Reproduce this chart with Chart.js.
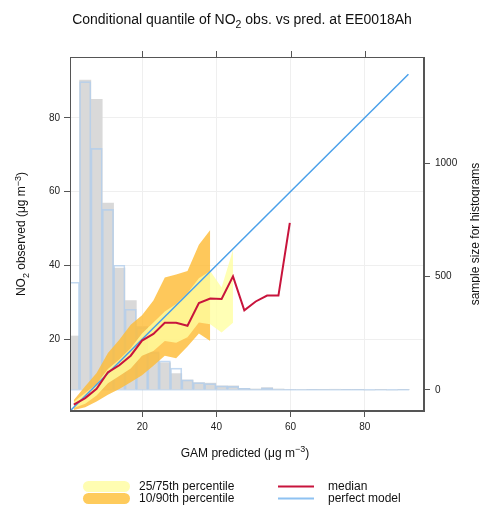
<!DOCTYPE html>
<html>
<head>
<meta charset="utf-8">
<script src="https://cdn.jsdelivr.net/npm/chart.js@4.4.1/dist/chart.umd.min.js"></script>
<style>
  html, body { margin: 0; padding: 0; background: #fff; }
  #wrap { width: 480px; height: 505px; }
</style>
</head>
<body>
<div id="wrap"><canvas id="chart"></canvas></div>
<script>
const FONT = '"Liberation Sans", Arial, sans-serif';

// histogram bins (30 bins over 0..92)
const binMid = [1.53, 4.6, 7.67, 10.73, 13.8, 16.87, 19.93, 23.0, 26.07, 29.13,
  32.2, 35.27, 38.33, 41.4, 44.47, 47.53, 50.6, 53.67, 56.73, 59.8,
  62.87, 65.93, 69.0, 72.07, 75.13, 78.2, 81.27, 84.33, 87.4, 90.47];
const predCount = [238, 1367, 1282, 824, 538, 394, 280, 168, 120, 72, 44, 32, 30, 18, 18,
  7, 4, 10, 4, 2, 2, 1, 1, 3, 1, 1, 0, 1, 0, 1];
const obsCount = [475, 1360, 1066, 797, 550, 356, 275, 165, 128, 96, 44, 32, 28, 18, 16,
  7, 4, 9, 4, 3, 2, 1, 2, 2, 1, 1, 1, 0, 1, 1];
const histRange = [0, 92];

// conditional quantiles, same bin centres
const q10 = [0.8, 1.5, 3.1, 4.9, 6.5, 8.3, 10.2, 12.8, 15.5, 14.8, 18.0, 21.5, 19.5];
const q90 = [3.5, 7.2, 10.8, 16.2, 19.8, 23.9, 26.5, 30.5, 36.7, 37.5, 38.5, 45.6, 49.6];
const q25 = [1.3, 2.5, 4.7, 8.0, 10.0, 12.0, 15.5, 16.8, 19.5, 19.0, 20.5, 24.5, 24.0, 21.8, 24.4];
const q75 = [3.0, 5.4, 7.8, 11.9, 14.5, 17.5, 21.5, 24.5, 27.5, 29.5, 32.5, 36.5, 38.5, 34.0, 44.2];
const median = [2.2, 4.0, 6.5, 11.0, 12.9, 15.5, 19.6, 21.4, 24.4, 24.4, 23.6, 29.8, 31.0, 30.9,
  37.0, 27.8, 30.2, 31.8, 31.8, 51.5];
const perfect = [0.5, 91.8];

const xTicks = [20, 40, 60, 80];
const yTicks = [20, 40, 60, 80];
const nTicks = [0, 500, 1000];

const pts = (vals) => vals.map((v, i) => ({ x: binMid[i], y: v }));

const YELLOW = 'rgba(255,255,160,0.78)';
const ORANGE = 'rgba(254,188,55,0.82)';
const RED = '#C8143C';
const BLUE = '#4AA0EA';
const OUTLINE = 'rgba(175,204,236,0.75)';

// text with sub/superscripts: parts = [text, 0 | -1 (sub) | 1 (sup)]
function richText(ctx, parts, x, y, size, align) {
  let w = 0;
  parts.forEach(p => {
    ctx.font = (p[1] ? size * 0.75 : size) + 'px ' + FONT;
    w += ctx.measureText(p[0]).width;
  });
  let cx = align === 'center' ? x - w / 2 : x;
  ctx.textAlign = 'left';
  ctx.textBaseline = 'alphabetic';
  parts.forEach(p => {
    ctx.font = (p[1] ? size * 0.75 : size) + 'px ' + FONT;
    const dy = p[1] === -1 ? size * 0.3 : p[1] === 1 ? -size * 0.4 : 0;
    ctx.fillText(p[0], cx, y + dy);
    cx += ctx.measureText(p[0]).width;
  });
}

const decorations = {
  id: 'decorations',
  afterDraw(chart) {
    const ctx = chart.ctx;
    const a = chart.chartArea;
    const sx = chart.scales.x;
    ctx.save();
    // frame + top ticks
    ctx.strokeStyle = '#555';
    ctx.lineWidth = 1;
    ctx.strokeRect(a.left + 0.5, a.top + 0.5, a.right - a.left - 1, a.bottom - a.top - 1);
    ctx.beginPath();
    xTicks.forEach(v => {
      const px = Math.round(sx.getPixelForValue(v)) + 0.5;
      ctx.moveTo(px, a.top);
      ctx.lineTo(px, a.top - 6);
    });
    ctx.stroke();

    ctx.fillStyle = '#111';
    richText(ctx, [['Conditional quantile of NO', 0], ['2', -1], [' obs. vs pred. at EE0018Ah', 0]], 242, 24, 14, 'center');
    richText(ctx, [['GAM predicted (\u03bcg m', 0], ['\u22123', 1], [')', 0]], 245, 457, 12, 'center');

    ctx.save();
    ctx.translate(21, 234);
    ctx.rotate(-Math.PI / 2);
    richText(ctx, [['NO', 0], ['2', -1], [' observed (\u03bcg m', 0], ['\u22123', 1], [')', 0]], 0, 4.3, 12, 'center');
    ctx.restore();

    ctx.save();
    ctx.translate(475, 234);
    ctx.rotate(-Math.PI / 2);
    richText(ctx, [['sample size for histograms', 0]], 0, 4.3, 12, 'center');
    ctx.restore();

    // legend
    ctx.fillStyle = '#FFFDB2';
    ctx.beginPath(); ctx.roundRect(83, 481, 47, 11, 5.5); ctx.fill();
    ctx.fillStyle = '#FECB5C';
    ctx.beginPath(); ctx.roundRect(83, 493, 47, 11, 5.5); ctx.fill();
    ctx.lineWidth = 2;
    ctx.strokeStyle = RED;
    ctx.beginPath(); ctx.moveTo(278, 486.5); ctx.lineTo(314, 486.5); ctx.stroke();
    ctx.strokeStyle = '#8EC2F2';
    ctx.beginPath(); ctx.moveTo(278, 498.5); ctx.lineTo(314, 498.5); ctx.stroke();
    ctx.fillStyle = '#111';
    ctx.font = '12px ' + FONT;
    ctx.textBaseline = 'middle';
    ctx.textAlign = 'left';
    ctx.fillText('25/75th percentile', 139, 487);
    ctx.fillText('10/90th percentile', 139, 499);
    ctx.fillText('median', 328, 487);
    ctx.fillText('perfect model', 328, 499);
    ctx.restore();
  }
};

const tickFont = { family: FONT, size: 10 };

new Chart(document.getElementById('chart'), {
  type: 'line',
  data: {
    datasets: [
      // outer band 10/90
      { data: pts(q90), fill: '+1', backgroundColor: ORANGE, borderWidth: 0, pointRadius: 0, order: 7 },
      { data: pts(q10), fill: false, borderWidth: 0, pointRadius: 0, order: 7 },
      // inner band 25/75
      { data: pts(q75), fill: '+1', backgroundColor: YELLOW, borderWidth: 0, pointRadius: 0, order: 5 },
      { data: pts(q25), fill: false, borderWidth: 0, pointRadius: 0, order: 5 },
      { data: pts(median), borderColor: RED, borderWidth: 2, pointRadius: 0, fill: false, order: 1 },
      { data: perfect.map(v => ({ x: v, y: v })), borderColor: BLUE, borderWidth: 1.5, pointRadius: 0, fill: false, order: 2 },
      // histograms on the right axis
      { type: 'bar', data: pts(predCount), yAxisID: 'y2', backgroundColor: '#D9D9D9', borderWidth: 0,
        grouped: false, barPercentage: 1, categoryPercentage: 1, order: 10 },
      { type: 'bar', data: pts(obsCount), yAxisID: 'y2', backgroundColor: 'rgba(0,0,0,0)',
        borderColor: OUTLINE, borderWidth: 1, grouped: false,
        barPercentage: 1, categoryPercentage: 1, order: 9 },
      { data: histRange.map(v => ({ x: v, y: 0 })), yAxisID: 'y2', borderColor: OUTLINE,
        borderWidth: 1, pointRadius: 0, fill: false, order: 9 }
    ]
  },
  options: {
    responsive: true,
    maintainAspectRatio: false,
    animation: false,
    layout: { padding: { top: 57, left: 0, right: 0, bottom: 0 } },
    plugins: { legend: { display: false }, tooltip: { enabled: false } },
    scales: {
      x: {
        type: 'linear', min: 0.5, max: 96, offset: false,
        afterBuildTicks: s => { s.ticks = xTicks.map(v => ({ value: v })); },
        afterFit: s => { s.height = 94; },
        ticks: { font: tickFont, color: '#222', padding: 4, maxRotation: 0, callback: v => String(v) },
        grid: { color: '#EFEFEF', tickColor: '#555', tickLength: 6, offset: false },
        border: { color: '#555' }
      },
      y: {
        type: 'linear', position: 'left', min: 0.5, max: 96.5,
        afterBuildTicks: s => { s.ticks = yTicks.map(v => ({ value: v })); },
        afterFit: s => { s.width = 70; },
        ticks: { font: tickFont, color: '#222', padding: 4, callback: v => String(v) },
        grid: { color: '#EFEFEF', tickColor: '#555', tickLength: 6 },
        border: { color: '#555' }
      },
      y2: {
        type: 'linear', position: 'right', min: -93, max: 1469,
        afterBuildTicks: s => { s.ticks = nTicks.map(v => ({ value: v })); },
        afterFit: s => { s.width = 56; },
        ticks: { font: tickFont, color: '#222', padding: 5, callback: v => String(v) },
        grid: { drawOnChartArea: false, tickColor: '#555', tickLength: 6 },
        border: { color: '#555' }
      }
    }
  },
  plugins: [decorations]
});
</script>
</body>
</html>
